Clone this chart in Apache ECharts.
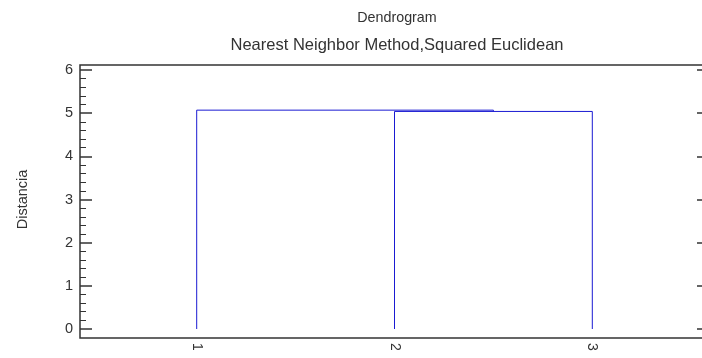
<!DOCTYPE html>
<html>
<head>
<meta charset="utf-8">
<script src="https://cdn.jsdelivr.net/npm/echarts@6/dist/echarts.min.js"></script>
<style>
  html, body { margin: 0; padding: 0; background: #fff; }
  #chart { width: 702px; height: 358px; }
</style>
</head>
<body>
<div id="chart"></div>
<script>
// Leaves of the tree and the order of the merges (single linkage, squared Euclidean)
const leafLabels = ['1', '2', '3'];
// Each merge joins two nodes: indexes 0..2 are leaves, 3.. are earlier merges
const mergePairs = [[1, 2], [0, 3]];
const mergeHeights = [5.04, 5.07];
// Vertical scale ticks
const yTicks = [0, 1, 2, 3, 4, 5, 6];

const font = 'Liberation Sans, Arial, sans-serif';
const lineColor = '#1a1ad2';
const textColor = '#333';

// Node positions: leaves sit at 1..n, a merge sits midway between its children
const nodeX = leafLabels.map((_, i) => i + 1);
const nodeH = leafLabels.map(() => 0);
mergePairs.forEach((pair, k) => {
  nodeX.push((nodeX[pair[0]] + nodeX[pair[1]]) / 2);
  nodeH.push(mergeHeights[k]);
});

// One bracket (vertical, horizontal, vertical) per merge
const bracketSeries = mergePairs.map((pair, k) => {
  const a = pair[0], b = pair[1], h = mergeHeights[k];
  return {
    type: 'line',
    xAxisIndex: 1,
    yAxisIndex: 1,
    symbol: 'none',
    silent: true,
    animation: false,
    lineStyle: { color: lineColor, width: 1 },
    data: [[nodeX[a], nodeH[a]], [nodeX[a], h], [nodeX[b], h], [nodeX[b], nodeH[b]]]
  };
});

const xMin = 0.41, xMax = leafLabels.length + 0.59;
const leafPositions = leafLabels.map((_, i) => i + 1);

const chart = echarts.init(document.getElementById('chart'), null, { renderer: 'canvas' });
chart.setOption({
  animation: false,
  backgroundColor: '#fff',
  textStyle: { fontFamily: font },
  graphic: [
    { type: 'text', x: 397, y: 18, style: { text: 'Dendrogram', fill: textColor, font: '14.3px ' + font, textAlign: 'center', textVerticalAlign: 'middle' } },
    { type: 'text', x: 397, y: 45, style: { text: 'Nearest Neighbor Method,Squared Euclidean', fill: textColor, font: '16.5px ' + font, textAlign: 'center', textVerticalAlign: 'middle' } }
  ],
  grid: [
    // outer frame with the leaf labels underneath; it runs past the right edge
    { left: 80, top: 65, width: 629, height: 273, outerBoundsMode: 'none', containLabel: false,
      show: true, borderColor: '#333', borderWidth: 1.5, backgroundColor: 'transparent' },
    // drawing area for the distance scale
    { left: 80, top: 70, width: 629, height: 259, outerBoundsMode: 'none', containLabel: false, show: false }
  ],
  xAxis: [
    {
      type: 'value', gridIndex: 0, min: xMin, max: xMax,
      axisLine: { show: false }, axisTick: { show: false }, splitLine: { show: false },
      axisLabel: {
        customValues: leafPositions,
        formatter: v => leafLabels[Math.round(v) - 1] || '',
        rotate: -90, fontSize: 14, color: textColor, margin: 5, fontFamily: font
      }
    },
    {
      type: 'value', gridIndex: 1, min: xMin, max: xMax, show: false
    }
  ],
  yAxis: [
    { type: 'value', gridIndex: 0, min: -0.2, max: 6.1, show: false },
    {
      type: 'value', gridIndex: 1, min: yTicks[0], max: yTicks[yTicks.length - 1], interval: 1,
      position: 'left',
      name: 'Distancia', nameLocation: 'middle', nameGap: 50,
      nameTextStyle: { fontSize: 14.5, color: textColor, fontFamily: font },
      axisLine: { show: false },
      axisTick: { show: true, inside: true, length: 12, lineStyle: { color: '#333', width: 1.5 } },
      minorTick: { show: true, splitNumber: 5, length: 6, lineStyle: { color: '#333', width: 1 } },
      splitLine: { show: false },
      axisLabel: { fontSize: 14.5, color: textColor, margin: 7, fontFamily: font }
    },
    {
      type: 'value', gridIndex: 1, min: yTicks[0], max: yTicks[yTicks.length - 1], interval: 1,
      position: 'right',
      axisLine: { show: false },
      axisTick: { show: true, inside: true, length: 12, lineStyle: { color: '#333', width: 1.5 } },
      splitLine: { show: false },
      axisLabel: { show: false }
    }
  ],
  series: bracketSeries
});
</script>
</body>
</html>
